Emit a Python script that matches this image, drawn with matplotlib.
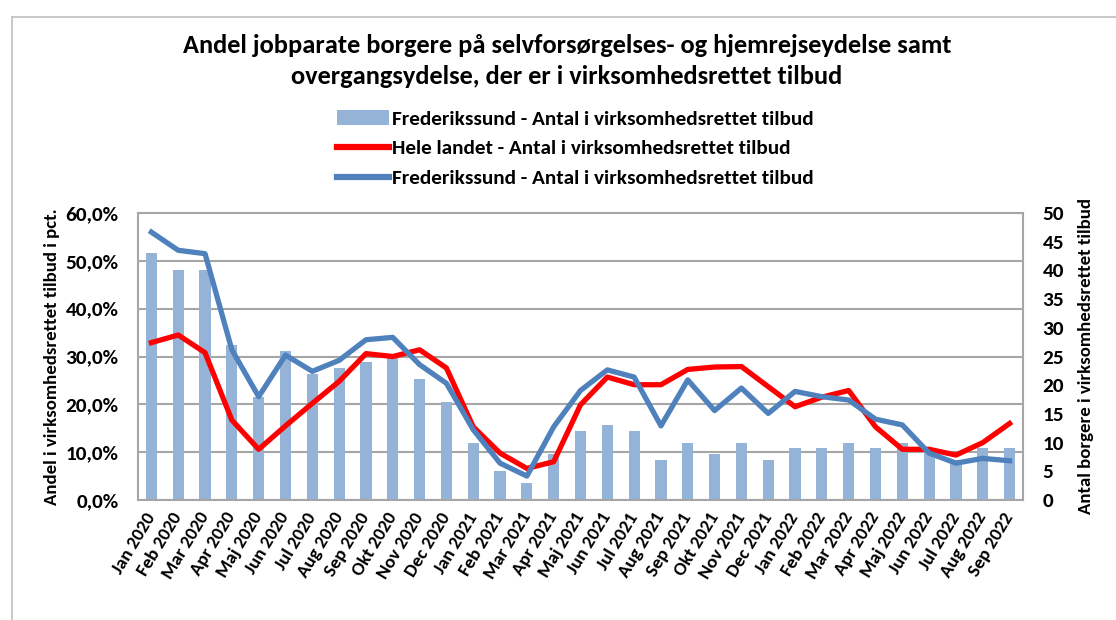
import matplotlib
matplotlib.use("Agg")
import matplotlib.pyplot as plt
from matplotlib.lines import Line2D
from matplotlib.patches import Patch
from matplotlib import font_manager

names = {f.name for f in font_manager.fontManager.ttflist}
FAM = [n for n in ['Carlito', 'Roboto Condensed', 'PT Sans Narrow', 'Open Sans'] if n in names][:1] + ['DejaVu Sans']
plt.rcParams['font.family'] = FAM
plt.rcParams['font.weight'] = 'bold'

months = ["Jan 2020", "Feb 2020", "Mar 2020", "Apr 2020", "Maj 2020", "Jun 2020", "Jul 2020",
          "Aug 2020", "Sep 2020", "Okt 2020", "Nov 2020", "Dec 2020",
          "Jan 2021", "Feb 2021", "Mar 2021", "Apr 2021", "Maj 2021", "Jun 2021", "Jul 2021",
          "Aug 2021", "Sep 2021", "Okt 2021", "Nov 2021", "Dec 2021",
          "Jan 2022", "Feb 2022", "Mar 2022", "Apr 2022", "Maj 2022", "Jun 2022", "Jul 2022",
          "Aug 2022", "Sep 2022"]

frederikssund_antal = [43, 40, 40, 27, 18, 26, 22, 23, 24, 25, 21, 17,
                       10, 5, 3, 8, 12, 13, 12, 7, 10, 8, 10, 7,
                       9, 9, 10, 9, 10, 9, 7, 9, 9]

hele_landet_pct = [32.9, 34.5, 30.8, 16.7, 10.6, 15.5, 20.2, 24.8, 30.6, 30.0, 31.4, 27.6,
                   15.3, 9.8, 6.6, 8.0, 19.9, 25.7, 24.1, 24.1, 27.3, 27.8, 27.9, 23.7,
                   19.5, 21.5, 22.9, 15.3, 10.6, 10.6, 9.4, 12.0, 16.0]

frederikssund_pct = [56.0, 52.2, 51.5, 31.4, 21.6, 30.3, 26.9, 29.2, 33.5, 34.0, 28.3, 24.4,
                     14.7, 7.7, 5.0, 15.3, 22.9, 27.2, 25.7, 15.5, 25.1, 18.7, 23.4, 18.1,
                     22.7, 21.6, 20.9, 16.9, 15.7, 9.8, 7.7, 8.7, 8.2]

left_ticks = [0, 10, 20, 30, 40, 50, 60]
right_ticks = [0, 5, 10, 15, 20, 25, 30, 35, 40, 45, 50]

title = "Andel jobparate borgere på selvforsørgelses- og hjemrejseydelse samt\novergangsydelse, der er i virksomhedsrettet tilbud"
legend_labels = ["Frederikssund - Antal i virksomhedsrettet tilbud",
                 "Hele landet - Antal i virksomhedsrettet tilbud",
                 "Frederikssund - Antal i virksomhedsrettet tilbud"]

BAR = '#95B3D7'
RED = '#FF0000'
BLUE = '#4F81BD'
GRID = '#A6A6A6'

fig = plt.figure(figsize=(11.16, 6.2), dpi=100)
fig.patch.set_facecolor('white')

# outer frame lines (partial border like the reference)
fig.add_artist(Line2D([12/1116, 12/1116], [0, 1 - 17/620], color='#BFBFBF', lw=1.2, transform=fig.transFigure))
fig.add_artist(Line2D([12/1116, 1], [1 - 17/620, 1 - 17/620], color='#BFBFBF', lw=1.2, transform=fig.transFigure))

ax = fig.add_axes([138/1116, 1 - 500/620, (1023 - 138)/1116, (500 - 213)/620])
x = list(range(len(months)))

# bars on bottom axes (right scale)
ax.bar(x, frederikssund_antal, width=0.42, color=BAR, zorder=2)
ax.set_ylim(0, 50)
ax.set_xlim(-0.5, len(months) - 0.5)
for t in left_ticks:
    ax.axhline(t / 60 * 50, color=GRID, lw=1.5, zorder=1)
ax.set_xticks(x)
ax.set_xticklabels(months, rotation=59, ha='right', va='center', rotation_mode='anchor', fontsize=13.5)
ax.tick_params(axis='x', length=0, pad=10)
for s in ax.spines.values():
    s.set_color(GRID)
    s.set_linewidth(1.5)

axl = ax.twinx()
axl.plot(x, hele_landet_pct, color=RED, lw=3.8, solid_joinstyle='round', zorder=3)
axl.plot(x, frederikssund_pct, color=BLUE, lw=3.8, solid_joinstyle='round', zorder=4)
axl.set_ylim(0, 60)
axl.yaxis.tick_left()
axl.yaxis.set_label_position('left')
axl.set_yticks(left_ticks)
axl.set_yticklabels([f"{v},0%" for v in left_ticks])
axl.tick_params(axis='y', length=0, pad=14, labelsize=15.3)
axl.set_ylabel("Andel i virksomhedsrettet tilbud i pct.", fontsize=13.5, fontweight='bold', labelpad=4)
for s in axl.spines.values():
    s.set_visible(False)

# right axis for the bar counts (set after twinx, which resets tick side)
ax.yaxis.tick_right()
ax.yaxis.set_label_position('right')
ax.set_yticks(right_ticks)
ax.set_yticklabels([str(v) for v in right_ticks])
ax.tick_params(axis='y', length=0, pad=14, labelsize=15.3)
ax.set_ylabel("Antal borgere i virksomhedsrettet tilbud", fontsize=13.5, fontweight='bold', labelpad=10)

fig.text(567/1116, 1 - 61/620, title, ha='center', va='center', fontsize=19, fontweight='bold',
         linespacing=1.38)

handles = [Patch(facecolor=BAR, edgecolor='none'),
           Line2D([], [], color=RED, lw=4.5),
           Line2D([], [], color=BLUE, lw=4.5)]
fig.legend(handles, legend_labels, loc='upper left', bbox_to_anchor=(337/1116, 1 - 110/620),
           frameon=False, handlelength=2.45, handletextpad=0.15, labelspacing=0.55,
           borderpad=0, borderaxespad=0, prop={'weight': 'bold', 'size': 15.3})

fig.savefig('out.png', dpi=100, facecolor='white')
